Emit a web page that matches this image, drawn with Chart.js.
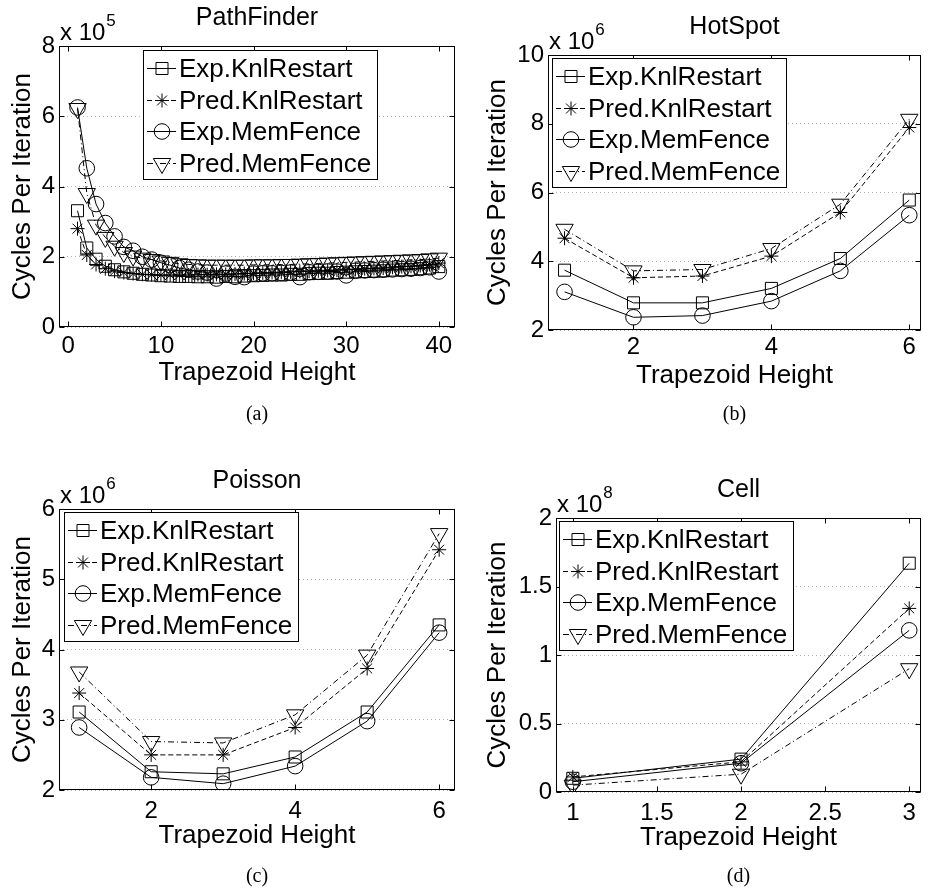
<!DOCTYPE html>
<html>
<head>
<meta charset="utf-8">
<script src="https://cdn.jsdelivr.net/npm/chart.js@4.4.1/dist/chart.umd.min.js"></script>
<style>
  body { margin: 0; background: #fff; }
  #wrap { position: relative; width: 932px; height: 890px; }
  #wrap canvas { position: absolute; }
</style>
</head>
<body>
<div id="wrap">
  <canvas id="pathfinder" width="466" height="445" style="left:0;top:0"></canvas>
  <canvas id="hotspot" width="466" height="445" style="left:466px;top:0"></canvas>
  <canvas id="poisson" width="466" height="445" style="left:0;top:445px"></canvas>
  <canvas id="cell" width="466" height="445" style="left:466px;top:445px"></canvas>
</div>
<script>
const seriesNames = ['Exp.KnlRestart', 'Pred.KnlRestart', 'Exp.MemFence', 'Pred.MemFence'];

// PathFinder, cycles x 10^5
const pfHeights = [1,2,3,4,5,6,7,8,9,10,11,12,13,14,15,16,17,18,19,20,
                   21,22,23,24,25,26,27,28,29,30,31,32,33,34,35,36,37,38,39,40];
const pfExpKnl  = [3.31,2.25,1.93,1.73,1.63,1.57,1.53,1.50,1.48,1.46,1.45,1.44,1.44,1.43,1.43,1.42,1.44,1.43,1.45,1.46,
                   1.47,1.48,1.48,1.50,1.50,1.52,1.53,1.53,1.55,1.56,1.57,1.58,1.59,1.60,1.62,1.63,1.64,1.66,1.68,1.72];
const pfPredKnl = [2.80,2.05,1.78,1.66,1.59,1.55,1.52,1.50,1.49,1.48,1.48,1.48,1.48,1.49,1.49,1.50,1.50,1.51,1.52,1.53,
                   1.54,1.55,1.56,1.57,1.58,1.59,1.60,1.61,1.62,1.63,1.64,1.66,1.67,1.68,1.70,1.72,1.73,1.75,1.78,1.82];
const pfExpMem  = [6.25,4.52,3.50,2.96,2.58,2.28,2.17,2.00,1.92,1.83,1.76,1.68,1.63,1.58,1.55,1.38,1.52,1.43,1.42,1.52,
                   1.53,1.53,1.54,1.55,1.42,1.56,1.57,1.58,1.58,1.47,1.60,1.61,1.62,1.63,1.64,1.65,1.66,1.68,1.70,1.58];
const pfPredMem = [6.22,3.80,2.90,2.55,2.30,2.12,2.02,1.96,1.92,1.88,1.84,1.80,1.78,1.77,1.76,1.76,1.76,1.76,1.76,1.77,
                   1.77,1.77,1.78,1.78,1.79,1.80,1.81,1.82,1.83,1.84,1.85,1.86,1.87,1.88,1.89,1.90,1.91,1.92,1.94,1.96];
const pfXTicks = [0, 10, 20, 30, 40];
const pfYTicks = [0, 2, 4, 6, 8];

// HotSpot, cycles x 10^6
const hsHeights = [1, 2, 3, 4, 5, 6];
const hsExpKnl  = [3.74, 2.79, 2.79, 3.21, 4.08, 5.78];
const hsPredKnl = [4.67, 3.52, 3.57, 4.15, 5.42, 7.89];
const hsExpMem  = [3.11, 2.37, 2.42, 2.84, 3.72, 5.34];
const hsPredMem = [4.93, 3.72, 3.76, 4.37, 5.66, 8.13];
const hsXTicks = [2, 4, 6];
const hsYTicks = [2, 4, 6, 8, 10];

// Poisson, cycles x 10^6
const psHeights = [1, 2, 3, 4, 5, 6];
const psExpKnl  = [3.11, 2.26, 2.23, 2.47, 3.11, 4.35];
const psPredKnl = [3.38, 2.50, 2.50, 2.89, 3.73, 5.42];
const psExpMem  = [2.89, 2.18, 2.09, 2.34, 2.98, 4.24];
const psPredMem = [3.68, 2.69, 2.67, 3.07, 3.92, 5.65];
const psXTicks = [2, 4, 6];
const psYTicks = [2, 3, 4, 5, 6];

// Cell, cycles x 10^8
const clHeights = [1, 2, 3];
const clExpKnl  = [0.10, 0.24, 1.67];
const clPredKnl = [0.11, 0.22, 1.34];
const clExpMem  = [0.075, 0.21, 1.18];
const clPredMem = [0.05, 0.13, 0.90];
const clXTicks = [1, 1.5, 2, 2.5, 3];
const clYTicks = [0, 0.5, 1, 1.5, 2];

const FONT = '"Liberation Sans", Arial, Helvetica, sans-serif';
Chart.defaults.font.family = FONT;
Chart.defaults.color = '#000';

// marker + line style of each series (MATLAB-like)
const seriesStyle = [
  {pointStyle: 'rect',     radius: 8.5, rotation: 0,   dash: []},
  {pointStyle: 'star',     radius: 7,   rotation: 0,   dash: [5, 3]},
  {pointStyle: 'circle',   radius: 7.8, rotation: 0,   dash: []},
  {pointStyle: 'triangle', radius: 10,  rotation: 180, dash: [6, 3, 1, 3]}
];

function drawMarker(ctx, st, x, y) {
  if (Chart.helpers && Chart.helpers.drawPoint) {
    Chart.helpers.drawPoint(ctx, {pointStyle: st.pointStyle, radius: st.radius, rotation: st.rotation, borderWidth: 1}, x, y);
  }
}

// box, inward ticks, title, exponent, caption, legend
const panelDecor = {
  id: 'panelDecor',
  afterDraw(chart, args, o) {
    const {ctx, chartArea: a, scales} = chart;
    const xs = scales.x, ys = scales.y;
    ctx.save();
    ctx.strokeStyle = '#000';
    ctx.lineWidth = 1;
    ctx.setLineDash([]);
    const L = Math.round(a.left) + 0.5, R = Math.round(a.right) - 0.5;
    const T = Math.round(a.top) + 0.5, B = Math.round(a.bottom) - 0.5;
    ctx.strokeRect(L, T, R - L, B - T);
    ctx.beginPath();
    xs.ticks.forEach(t => {
      const px = Math.round(xs.getPixelForValue(t.value)) + 0.5;
      ctx.moveTo(px, B); ctx.lineTo(px, B - 5);
      ctx.moveTo(px, T); ctx.lineTo(px, T + 5);
    });
    ys.ticks.forEach(t => {
      const py = Math.round(ys.getPixelForValue(t.value)) + 0.5;
      ctx.moveTo(L, py); ctx.lineTo(L + 5, py);
      ctx.moveTo(R, py); ctx.lineTo(R - 5, py);
    });
    ctx.stroke();

    ctx.fillStyle = '#000';
    ctx.textBaseline = 'alphabetic';
    ctx.textAlign = 'center';
    ctx.font = '25px ' + FONT;
    ctx.fillText(o.title, (a.left + a.right) / 2, a.top - 21);

    ctx.textAlign = 'left';
    ctx.font = '24px ' + FONT;
    ctx.fillText('x 10', a.left + 1, a.top - 6);
    const w = ctx.measureText('x 10').width;
    ctx.font = '17px ' + FONT;
    ctx.fillText(o.exponent, a.left + 2 + w, a.top - 20);

    ctx.textAlign = 'center';
    ctx.font = '20px "Liberation Serif", "Times New Roman", serif';
    ctx.fillText(o.caption, (a.left + a.right) / 2, o.captionY);

    // legend
    const lx = o.legendX, ly = o.legendY, lw = 234, lh = 129;
    ctx.fillStyle = '#fff';
    ctx.fillRect(lx, ly, lw, lh);
    ctx.strokeRect(lx + 0.5, ly + 0.5, lw, lh);
    ctx.font = '26px ' + FONT;
    ctx.textBaseline = 'middle';
    ctx.textAlign = 'left';
    seriesNames.forEach((name, i) => {
      const st = seriesStyle[i];
      const ry = Math.round(ly + 18 + i * 31.6) + 0.5;
      ctx.strokeStyle = '#000';
      ctx.setLineDash(st.dash);
      ctx.beginPath();
      ctx.moveTo(lx + 4, ry); ctx.lineTo(lx + 33, ry);
      ctx.stroke();
      ctx.setLineDash([]);
      ctx.fillStyle = 'rgba(0,0,0,0)';
      drawMarker(ctx, st, lx + 19, ry);
      ctx.fillStyle = '#000';
      ctx.fillText(name, lx + 36, ry + 1);
    });
    ctx.restore();
  }
};

function makePanel(id, p) {
  const H = 70;
  const datasets = p.series.map((vals, i) => ({
    label: seriesNames[i],
    data: p.heights.map((h, k) => ({x: h, y: vals[k]})),
    borderColor: '#000',
    borderWidth: 1,
    borderDash: seriesStyle[i].dash,
    pointStyle: seriesStyle[i].pointStyle,
    pointRadius: seriesStyle[i].radius,
    pointRotation: seriesStyle[i].rotation,
    pointBorderColor: '#000',
    pointBorderWidth: 1,
    pointBackgroundColor: 'rgba(0,0,0,0)',
    tension: 0,
    fill: false
  }));
  new Chart(document.getElementById(id), {
    type: 'line',
    data: {datasets},
    plugins: [panelDecor],
    options: {
      responsive: false,
      animation: false,
      events: [],
      devicePixelRatio: 1,
      layout: {padding: {left: 0, top: p.top, right: 466 - p.right, bottom: 445 - p.bottom - H}},
      plugins: {
        legend: {display: false},
        tooltip: {enabled: false},
        panelDecor: {title: p.title, exponent: p.exponent, caption: p.caption,
                     captionY: p.captionY, legendX: p.legendX, legendY: p.legendY}
      },
      scales: {
        x: {
          type: 'linear',
          min: p.xMin, max: p.xMax,
          afterBuildTicks: s => { s.ticks = p.xTicks.map(v => ({value: v})); },
          afterFit: s => { s.height = H; },
          grid: {display: false, drawTicks: false},
          border: {display: false},
          ticks: {font: {size: 24}, padding: p.xTickPad, maxRotation: 0, autoSkip: false,
                  callback: v => String(v)},
          title: {display: true, text: 'Trapezoid Height', font: {size: 26}, padding: {top: 0, bottom: 9}}
        },
        y: {
          min: p.yMin, max: p.yMax,
          afterBuildTicks: s => { s.ticks = p.yTicks.map(v => ({value: v})); },
          afterFit: s => { s.width = p.left; },
          grid: {color: '#b4b4b4', lineWidth: 1, drawTicks: false, borderDash: [1, 3]},
          border: {display: false, dash: [1, 3]},
          ticks: {font: {size: 24}, padding: 4, callback: v => String(v)},
          title: {display: true, text: 'Cycles Per Iteration', font: {size: 26}, padding: {top: p.yTitlePad, bottom: 0}}
        }
      }
    }
  });
}

makePanel('pathfinder', {
  title: 'PathFinder', exponent: '5', caption: '(a)', captionY: 420,
  heights: pfHeights, series: [pfExpKnl, pfPredKnl, pfExpMem, pfPredMem],
  xTicks: pfXTicks, yTicks: pfYTicks, xMin: -1, xMax: 41.75, yMin: 0, yMax: 8,
  left: 59, right: 458, top: 46, bottom: 327, xTickPad: 4.5, yTitlePad: 7,
  legendX: 143, legendY: 50
});
makePanel('hotspot', {
  title: 'HotSpot', exponent: '6', caption: '(b)', captionY: 420,
  heights: hsHeights, series: [hsExpKnl, hsPredKnl, hsExpMem, hsPredMem],
  xTicks: hsXTicks, yTicks: hsYTicks, xMin: 0.76, xMax: 6.17, yMin: 2, yMax: 10,
  left: 82, right: 465, top: 55, bottom: 330, xTickPad: 2.5, yTitlePad: 16,
  legendX: 86, legendY: 58
});
makePanel('poisson', {
  title: 'Poisson', exponent: '6', caption: '(c)', captionY: 437,
  heights: psHeights, series: [psExpKnl, psPredKnl, psExpMem, psPredMem],
  xTicks: psXTicks, yTicks: psYTicks, xMin: 0.72, xMax: 6.22, yMin: 2, yMax: 6,
  left: 59, right: 458, top: 64, bottom: 345, xTickPad: 6.5, yTitlePad: 7,
  legendX: 64, legendY: 67
});
makePanel('cell', {
  title: 'Cell', exponent: '8', caption: '(d)', captionY: 437,
  heights: clHeights, series: [clExpKnl, clPredKnl, clExpMem, clPredMem],
  xTicks: clXTicks, yTicks: clYTicks, xMin: 0.9, xMax: 3.07, yMin: 0, yMax: 2,
  left: 90, right: 465, top: 73, bottom: 347, xTickPad: 6.5, yTitlePad: 16,
  legendX: 93, legendY: 76
});
</script>
</body>
</html>
